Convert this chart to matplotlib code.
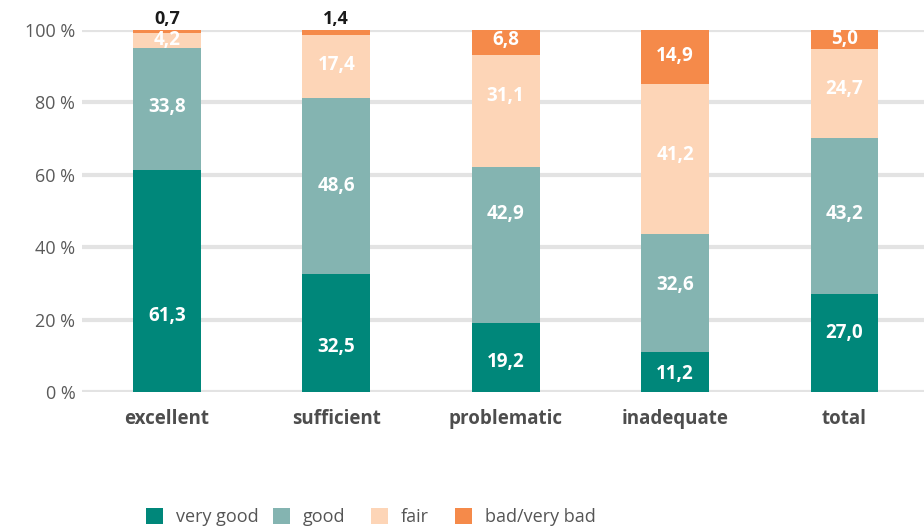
import matplotlib.pyplot as plt
import numpy as np

plt.rcParams['font.family'] = ['Open Sans', 'DejaVu Sans']

# Datos
categorias = ["excellent", "sufficient", "problematic", "inadequate", "total"]
muy_bueno = [61.3, 32.5, 19.2, 11.2, 27.0]
bueno = [33.8, 48.6, 42.9, 32.6, 43.2]
regular = [4.2, 17.4, 31.1, 41.2, 24.7]
malo = [0.7, 1.4, 6.8, 14.9, 5.0]

series = [muy_bueno, bueno, regular, malo]
nombres = ["very good", "good", "fair", "bad/very bad"]
colores = ["#00877a", "#84b4b1", "#fdd5b7", "#f58a4a"]

# desplazamiento de algunas etiquetas respecto al centro del tramo (en %)
ajuste = [[-9.6, -3.8, -1.3, -0.6, 2.8],
          [0.5, 0, 8.5, 2.1, 0.6],
          [0, 0.5, 4.1, 1.1, 1.1],
          [0, 0, 0.6, 0.5, 0]]

fig = plt.figure(figsize=(9.24, 5.27), dpi=100)
ax = fig.add_axes([0.089, 0.256, 0.911, 0.687])

x = np.arange(len(categorias))
base = np.zeros(len(categorias))
barras = []
for vals, nom, col, aj in zip(series, nombres, colores, ajuste):
    vals = np.array(vals)
    b = ax.bar(x, vals, width=0.4, bottom=base, color=col, label=nom, zorder=3)
    barras.append(b)
    for xi, v, bo, d in zip(x, vals, base, aj):
        txt = ("%.1f" % v).replace(".", ",")
        if v < 2:
            # etiquetas pequenas encima de la barra
            ax.text(xi, 100.6, txt, ha="center", va="bottom", fontsize=13,
                    fontweight="bold", color="#1a1a1a", zorder=4)
        else:
            ax.text(xi, bo + v / 2 + d, txt, ha="center", va="center", fontsize=13.5,
                    fontweight="bold", color="white", zorder=4)
    base = base + vals

ax.set_xlim(-0.5, 4.47)
ax.set_ylim(0, 100)
ax.set_yticks([0, 20, 40, 60, 80, 100])
ax.set_yticklabels(["0 %", "20 %", "40 %", "60 %", "80 %", "100 %"],
                   fontsize=13, color="#5a5a5a")
ax.set_xticks(x)
ax.set_xticklabels(categorias, fontsize=13.5, fontweight="bold", color="#4d4d4d")
ax.tick_params(axis="both", length=0)
ax.tick_params(axis="x", pad=12)
ax.tick_params(axis="y", pad=5)
ax.grid(axis="y", color="#e3e3e3", linewidth=3, zorder=0)
for s in ax.spines.values():
    s.set_visible(False)

# leyenda: una entrada por posicion
pos_leyenda = [146, 273, 371, 455]
for b, nom, px in zip(barras, nombres, pos_leyenda):
    fig.legend(handles=[b], labels=[nom], loc="center left",
               bbox_to_anchor=(px / 924 - 0.006, 1 - 517 / 527), frameon=False,
               fontsize=13, labelcolor="#555555", handlelength=0.95, handleheight=0.95,
               handletextpad=0.7, borderpad=0.3, borderaxespad=0)

plt.savefig("out.png", dpi=100)
